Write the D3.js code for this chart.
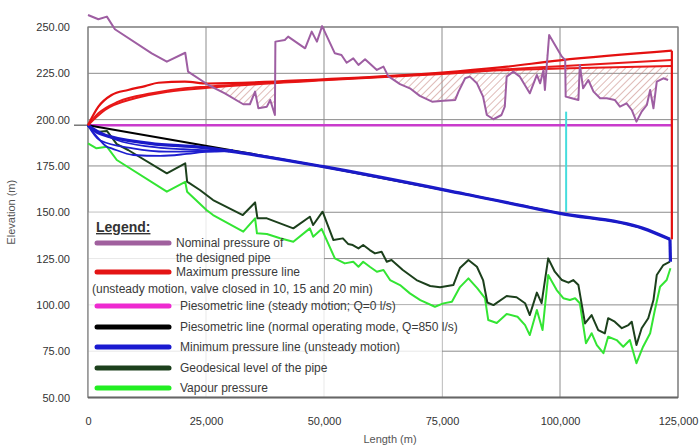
<!DOCTYPE html>
<html>
<head>
<meta charset="utf-8">
<script src="https://cdn.jsdelivr.net/npm/d3@7"></script>
<style>
  body { margin: 0; background: #fff; }
  text { font-family: "Liberation Sans", Arial, sans-serif; }
</style>
</head>
<body>
<script>
// lengths in km, elevations in m
const xTicks = [0, 25, 50, 75, 100, 125];
const xTickLabels = ["0", "25,000", "50,000", "75,000", "100,000", "125,000"];
const yTicks = [50, 75, 100, 125, 150, 175, 200, 225, 250];

const nominal = [[0,256.5],[2.2,254.2],[4,255.6],[5.7,248.8],[13.5,235.8],[16.7,231.3],[20.6,236.1],[21.2,225.9],
  [25.5,218.7],[29,214.2],[32.9,208.3],[34.3,208.3],[35.4,215.1],[36.1,206.1],[37.9,207],[38.6,210.6],[39.6,202.5],
  [39.7,242.1],[41.7,243],[42.4,244.8],[46,238.5],[47.4,247.5],[48.5,242.1],[49.6,250.5],[52.3,235.8],[53.7,234.9],
  [54.8,230.7],[56.2,233.1],[57.3,229.5],[58.7,232.6],[61.2,226.8],[62.6,228.6],[63.6,223.5],[66.1,219.2],[68.2,216.9],
  [70.3,212.8],[72.9,209.7],[75.3,210.2],[77.8,210.6],[78.5,215.1],[79.9,222.3],[80.9,223.2],[82.4,219.6],[83.7,212.4],
  [84.5,202.5],[85.9,200.2],[87.6,202.5],[88.3,207],[88.7,223.2],[90.1,225.9],[91.5,223.2],[93.6,214.2],[95.1,224.1],
  [95.8,219.6],[96.5,226.8],[96.8,216],[97.7,245.7],[100.4,234],[101.1,232.2],[101.2,212.4],[102.5,211.5],[103.9,210.6],
  [104.2,229.5],[104.9,216.9],[106,221.4],[107.1,215.1],[108.5,211.5],[109.9,211.5],[111.6,210.6],[112.7,207],
  [114.1,208.8],[115.2,205.2],[116.2,198.9],[117.3,204.3],[118.4,207.9],[119.1,216],[119.8,206.1],[120.5,220.5],
  [121.9,222.3],[122.9,221.4]];

const maxA = [[0,197],[2.2,207],[5,213.3],[8.5,216],[12.1,218.1],[14.9,219.9],[20.5,220.5],[25.4,219.5],[50,221.8],
  [75,225.4],[87.3,228.2],[100,232],[123.7,237.2]];
const maxB = [[0,197],[2.2,203.4],[6.4,209.7],[13.5,214.2],[20.5,216.9],[25.4,217.8],[50,221.5],[75,225],[87.3,227],
  [100,228.8],[123.7,232.2]];
const maxC = [[0,197],[3.6,205.2],[10,211.5],[17,215.1],[25.4,217.2],[50,221.2],[75,224.6],[87.3,226.6],[100,227.6],
  [123.7,229]];
const maxDrop = [[123.7,237.2],[123.7,135.4]];

const staticLine = [[0,197],[123.7,197]];
const operating = [[0,197],[32.2,182.7],[49.9,174.6],[80.9,159.3],[100,149.4],[117.6,141.3],[123.3,135.4]];

const minMain = [[0,197],[2.5,192.5],[13.1,187.2],[24,185],[30,183],[49.9,174.6],[80.9,159.3],[100,149.4],[117.6,141.3],
  [123.3,135.4]];
const minDrop = [[123.3,135.4],[123.4,123.3]];
const minCurves = [
  [[0,197],[2.2,189.9],[4,185.4],[5,184.5],[9.6,180.9],[15.3,180.4],[20.9,181.5],[25.1,182.7],[30.7,183.6]],
  [[0,197],[2.5,188.9],[9.5,184.5],[16.7,182.7],[25.1,182.7],[30,183]],
  [[0,197],[6.1,189],[13.1,185.4],[20.2,184],[30,183]]
];

const geodesic = [[0,197.1],[1.9,193.3],[4,193.9],[6.1,186.8],[8.5,183.6],[16.7,171],[20.6,176.4],[21,166.5],[23.7,162],
  [26.5,156.6],[32.8,148.5],[35.4,155.3],[35.9,146.7],[37.9,146.7],[40.7,144],[43.5,141.3],[47,147.6],[47.7,143.1],
  [49.7,150.3],[52,135],[54,135.9],[55.1,132.9],[56.1,132.3],[57.3,130.5],[58.3,132.3],[59.7,129.6],[60.8,127.8],
  [62.2,128.7],[63.3,123.3],[64.3,124.2],[66.7,118.8],[69.6,113.4],[72.5,110.2],[74.6,109.5],[77.4,110.7],[78.8,119.9],
  [80.6,124.2],[82.4,120.6],[83.7,113.4],[84.6,101.3],[85.9,99.9],[88.7,104.8],[90.8,104.1],[92.6,100.9],[93.6,94.5],
  [95.1,106.6],[96.1,100.9],[97.5,125.1],[98.9,117.9],[100.4,113.4],[101.8,112],[102.8,113.4],[103.9,110.7],[105.3,90],
  [106.7,94.5],[108.1,86.4],[109.5,84.6],[110.2,92.8],[111.6,90.9],[113.1,87.4],[114.5,89.1],[115.2,90.9],[116.2,78.3],
  [117.3,87.4],[118.7,92.8],[119.8,102.6],[120.5,116.1],[121.9,121.5],[123.3,123.3]];

const vapour = [[0,187.2],[1.8,184.5],[4,185.4],[6.1,178.2],[16.7,161.1],[20.6,166.4],[21,161.1],[25.1,151.2],
  [26.5,148.5],[32.9,139.5],[35.4,146.7],[35.8,138.6],[37.9,138.3],[40.7,136],[43.5,134.1],[47,141.3],[47.7,136.8],
  [49.5,141],[52.3,125.1],[54.4,122.4],[56.2,123.3],[57.3,120.6],[58.3,123.3],[59.7,120.6],[61.2,117.9],[62.6,118.8],
  [64,113.4],[66.1,110.7],[68.2,106.2],[70.4,102.6],[73.5,99],[75.3,100.8],[77.1,101.7],[78.8,109.6],[80.6,114.3],
  [82.5,108.9],[84.1,103.6],[84.8,91.8],[86.6,90.2],[88.7,95.1],[91,93.6],[92.6,89.1],[93.6,83.7],[95.1,97.2],
  [96.3,86.4],[97.5,116.1],[99.3,108],[100.7,103.6],[102.1,102.6],[103.2,103.6],[104.2,100.9],[105.5,79.3],[106.7,84.7],
  [107.8,78.3],[109.2,73.9],[110.2,82.8],[112,81],[113.4,77.4],[114.8,81],[116.2,68.5],[117.6,77.4],[119.1,84.7],
  [120.1,97.2],[121.2,109.8],[122.6,113.4],[123.4,119.8]];

const valveMark = [[101.3,204.3],[101.3,150.3]];

const legendItems = [
  {lines: ["Nominal pressure of", "the designed pipe"], color: "#a0609e"},
  {lines: ["Maximum pressure line"], color: "#e41414", extra: "(unsteady motion, valve closed in 10, 15 and 20 min)"},
  {lines: ["Piesometric line (steady motion; Q=0 l/s)"], color: "#ee2ad0"},
  {lines: ["Piesometric line (normal operating mode, Q=850 l/s)"], color: "#000000"},
  {lines: ["Minimum pressure line (unsteady motion)"], color: "#1a1ad0"},
  {lines: ["Geodesical level of the pipe"], color: "#1c401c"},
  {lines: ["Vapour pressure"], color: "#22ee22"}
];

const W = 700, H = 446;
const x = d3.scaleLinear().domain([0, 125]).range([88, 678]);
const y = d3.scaleLinear().domain([50, 250]).range([397.5, 27]);

const svg = d3.select("body").append("svg").attr("width", W).attr("height", H);

// hatch pattern
svg.append("defs").append("pattern")
  .attr("id", "hatch").attr("patternUnits", "userSpaceOnUse")
  .attr("width", 5).attr("height", 5).attr("patternTransform", "rotate(45)")
  .append("line").attr("x1", 0).attr("y1", 0).attr("x2", 0).attr("y2", 5)
  .attr("stroke", "#c4827c").attr("stroke-width", 1.1);

// grid
svg.append("g").selectAll("line").data(yTicks).join("line")
  .attr("x1", x(0)).attr("x2", x(125)).attr("y1", d => y(d)).attr("y2", d => y(d))
  .attr("stroke", "#8c8c8c").attr("stroke-width", 1);
svg.append("g").selectAll("line").data(xTicks).join("line")
  .attr("x1", d => x(d)).attr("x2", d => x(d)).attr("y1", y(250)).attr("y2", y(50))
  .attr("stroke", "#8c8c8c").attr("stroke-width", 1);

// legend backdrop
svg.append("path")
  .attr("d", `M${x(0)},${y(150)}H${x(50)}V${y(100)}H${x(75)}V${y(50)}H${x(0)}Z`)
  .attr("fill", "#fff").attr("opacity", 0.8);

// axes
const yAxis = svg.append("g").attr("transform", `translate(${x(0)},0)`)
  .call(d3.axisLeft(y).tickValues(yTicks).tickFormat(d3.format(".2f")).tickSize(0).tickPadding(18));
yAxis.select(".domain").remove();
yAxis.selectAll("text").attr("font-size", 11).attr("fill", "#333").attr("font-family", "Liberation Sans, Arial, sans-serif");

const xAxis = svg.append("g").attr("transform", `translate(0,${y(50)})`)
  .call(d3.axisBottom(x).tickValues(xTicks).tickFormat((d, i) => xTickLabels[i]).tickSize(0).tickPadding(20));
xAxis.select(".domain").remove();
xAxis.selectAll("text").attr("font-size", 11).attr("fill", "#333").attr("font-family", "Liberation Sans, Arial, sans-serif");

svg.append("rect")
  .attr("x", x(0)).attr("y", y(250)).attr("width", x(125) - x(0)).attr("height", y(50) - y(250))
  .attr("fill", "none").attr("stroke", "#808080").attr("stroke-width", 1.2);
svg.append("line").attr("x1", x(0)).attr("x2", x(125)).attr("y1", y(50)).attr("y2", y(50))
  .attr("stroke", "#666").attr("stroke-width", 2);
svg.append("line").attr("x1", x(0) - 14).attr("x2", x(0)).attr("y1", y(197)).attr("y2", y(197))
  .attr("stroke", "#555").attr("stroke-width", 1.2);

svg.append("text").attr("transform", `translate(15,${(y(50) + y(250)) / 2}) rotate(-90)`)
  .attr("text-anchor", "middle").attr("font-size", 11).attr("fill", "#555").text("Elevation (m)");
svg.append("text").attr("x", 390).attr("y", 443)
  .attr("text-anchor", "middle").attr("font-size", 11).attr("fill", "#555").text("Length (m)");

const line = d3.line().x(d => x(d[0])).y(d => y(d[1]));
const smooth = d3.line().x(d => x(d[0])).y(d => y(d[1])).curve(d3.curveMonotoneX);

// hatched zone between nominal pressure and max pressure
const maxCAt = d3.scaleLinear().domain(maxC.map(d => d[0])).range(maxC.map(d => d[1]));
svg.append("path")
  .datum(nominal)
  .attr("d", d3.area().x(d => x(d[0])).y0(d => y(d[1])).y1(d => y(Math.max(d[1], maxCAt(d[0])))))
  .attr("fill", "url(#hatch)");

function draw(data, color, w, gen) {
  svg.append("path").datum(data).attr("d", gen || line)
    .attr("fill", "none").attr("stroke", color).attr("stroke-width", w)
    .attr("stroke-linejoin", "round");
}

draw(vapour, "#33e533", 2);
draw(geodesic, "#1c401c", 2);
draw(staticLine, "#c93ccc", 2.5);
draw(operating, "#000", 2, smooth);
minCurves.forEach(c => draw(c, "#1e1ecf", 1.8, smooth));
draw(minMain, "#1a1ac8", 3.2, smooth);
draw(minDrop, "#1a1ac8", 3.2);
draw(maxC, "#e81818", 2, smooth);
draw(maxB, "#e81818", 2, smooth);
draw(maxA, "#e41010", 2.2, smooth);
draw(maxDrop, "#e41010", 2.2);
draw(nominal, "#9e5ea2", 2);
draw(valveMark, "#44dddd", 2);

// legend
const lg = svg.append("g");
lg.append("text").attr("x", 96).attr("y", 232).attr("font-size", 14).attr("fill", "#333")
  .attr("text-decoration", "underline").attr("font-weight", "bold").text("Legend:");
const rowsY = [243, 272, 306, 327, 347, 368, 388];
legendItems.forEach((it, i) => {
  const cy = rowsY[i];
  lg.append("line").attr("x1", 97).attr("x2", 169).attr("y1", cy).attr("y2", cy)
    .attr("stroke", it.color).attr("stroke-width", 5).attr("stroke-linecap", "round");
  it.lines.forEach((t, j) => {
    lg.append("text").attr("x", i < 2 ? 176 : 180).attr("y", cy + 4 + j * 15)
      .attr("font-size", 12).attr("fill", "#3a3a3a").text(t);
  });
  if (it.extra) {
    lg.append("text").attr("x", 92).attr("y", cy + 21)
      .attr("font-size", 12).attr("fill", "#3a3a3a").text(it.extra);
  }
});
</script>
</body>
</html>
